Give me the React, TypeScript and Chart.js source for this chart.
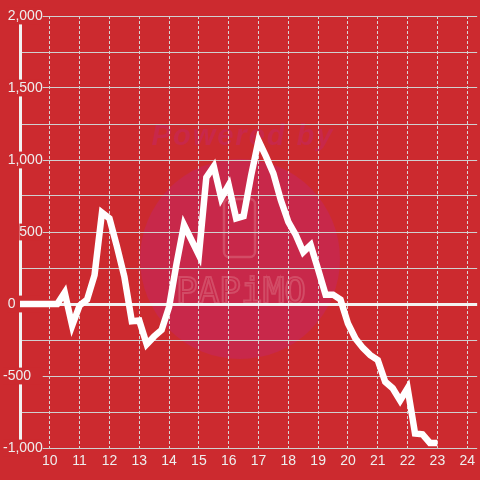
import React, { useEffect, useRef } from 'react';
import { Chart, registerables } from 'chart.js';

Chart.register(...registerables);

const hours = [
  9, 9.25, 9.5, 9.75, 10, 10.25, 10.5, 10.75, 11, 11.25, 11.5, 11.75,
  12, 12.25, 12.5, 12.75, 13, 13.25, 13.5, 13.75, 14, 14.25, 14.5, 14.75,
  15, 15.25, 15.5, 15.75, 16, 16.25, 16.5, 16.75, 17, 17.25, 17.5, 17.75,
  18, 18.25, 18.5, 18.75, 19, 19.25, 19.5, 19.75, 20, 20.25, 20.5, 20.75,
  21, 21.25, 21.5, 21.75, 22, 22.25, 22.5, 22.75, 23,
];

const values = [
  0, 0, 0, 0, 0, 0, 80, -150, -10, 30, 200, 635,
  595, 400, 190, -120, -115, -280, -225, -180, -20, 280, 550, 445,
  340, 880, 955, 735, 825, 595, 610, 890, 1135, 1025, 905, 720,
  570, 480, 360, 410, 240, 65, 65, 30, -135, -240, -305, -355,
  -390, -540, -585, -670, -585, -900, -905, -965, -965,
];

const xTickLabels = ['10', '11', '12', '13', '14', '15', '16', '17', '18', '19', '20', '21', '22', '23', '24'];
const yLabelValues = [-1000, -500, 0, 500, 1000, 1500, 2000];
// trailing figure/punctuation spaces shift a label left, as in the reference
const yLabelTrail: Record<string, string> = { '0': '\u2007\u2007\u2007\u2008', '-500': '\u2007\u2008' };

const BG = '#CC2A2F';
const LABEL = '#eeeeee';
const FONT = 'Liberation Sans';

const watermark = {
  id: 'watermark',
  beforeDraw(chart: any) {
    const ctx = chart.ctx as CanvasRenderingContext2D;
    ctx.save();
    ctx.fillStyle = '#C8284A';
    ctx.beginPath();
    ctx.arc(240, 259, 100, 0, Math.PI * 2);
    ctx.fill();
    ctx.font = `italic bold 29px "${FONT}"`;
    (ctx as any).letterSpacing = '2px';
    ctx.textAlign = 'center';
    ctx.textBaseline = 'alphabetic';
    ctx.fillStyle = '#C8284A';
    ctx.fillText('Powered by', 243, 145);
    (ctx as any).letterSpacing = '0px';
    ctx.strokeStyle = '#D24C66';
    ctx.lineWidth = 2.5;
    ctx.beginPath();
    (ctx as any).roundRect(224, 199, 31, 58, 5);
    ctx.stroke();
    ctx.font = '36px "DejaVu Sans Mono"';
    ctx.lineWidth = 2;
    ctx.strokeText('PAPiMO', 241, 303);
    ctx.restore();
  },
};

function trailWidth(v: number): number {
  const t = yLabelTrail[String(v)];
  if (!t) return 0;
  const c = document.createElement('canvas').getContext('2d') as CanvasRenderingContext2D;
  c.font = `14px "${FONT}"`;
  return c.measureText(t).width;
}

export default function App() {
  const ref = useRef<HTMLCanvasElement>(null);
  useEffect(() => {
    const chart = new Chart(ref.current as HTMLCanvasElement, {
      type: 'line',
      data: {
        datasets: [
          {
            data: hours.map((h, i) => ({ x: h, y: values[i] })),
            borderColor: '#ffffff',
            borderWidth: 6.5,
            pointRadius: 0,
            tension: 0,
            borderJoinStyle: 'miter',
            fill: false,
          },
        ],
      },
      options: {
        animation: false,
        responsive: false,
        layout: { padding: { top: 16, left: 0, right: 0, bottom: 0 } },
        plugins: { legend: { display: false }, tooltip: { enabled: false } },
        scales: {
          x: {
            type: 'linear',
            min: 9,
            max: 24 + 1 / 3,
            afterFit: (s: any) => {
              s.height = 32;
            },
            grid: { color: '#d6d6d6', lineWidth: 1, drawTicks: false },
            border: { display: false, dash: [3, 2] },
            ticks: {
              stepSize: 1,
              includeBounds: false,
              autoSkip: false,
              maxRotation: 0,
              padding: 5,
              color: LABEL,
              font: { family: FONT, size: 14 },
              callback: (v: any) => (xTickLabels.includes(String(v)) ? String(v) : ''),
            },
          },
          y: {
            type: 'linear',
            min: -1000,
            max: 2000,
            afterFit: (s: any) => {
              s.width = 20;
            },
            grid: {
              drawTicks: false,
              color: (c: any) => (c.tick && c.tick.value === 0 ? '#f2f2f2' : '#d0d0d0'),
              lineWidth: (c: any) => (c.tick && c.tick.value === 0 ? 3 : 1),
            },
            border: { display: true, color: '#f2f2f2', width: 3 },
            ticks: {
              stepSize: 250,
              mirror: true,
              crossAlign: 'far',
              padding: -17,
              autoSkip: false,
              color: LABEL,
              font: { family: FONT, size: 14 },
              callback: (v: any) => {
                const n = Number(v);
                if (!yLabelValues.includes(n)) return '';
                return n.toLocaleString('en-US') + (yLabelTrail[String(n)] || '');
              },
              showLabelBackdrop: (c: any) => !!(c.tick && yLabelValues.includes(c.tick.value)),
              backdropColor: BG,
              backdropPadding: (c: any) => ({
                left: 2,
                right: 2 - (c.tick ? trailWidth(c.tick.value) : 0),
                top: 0,
                bottom: 0,
              }),
            },
          },
        },
      },
      plugins: [watermark],
    } as any);
    return () => chart.destroy();
  }, []);
  return (
    <div style={{ position: 'absolute', left: 0, top: 0, width: 480, height: 480 }}>
      <canvas ref={ref} width={480} height={480} style={{ display: 'block', background: BG }} />
    </div>
  );
}
